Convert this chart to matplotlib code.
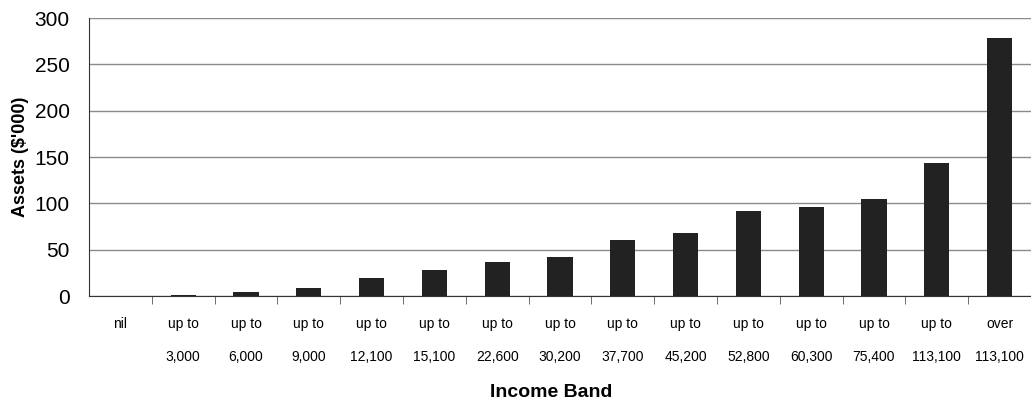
import numpy as np
import matplotlib.pyplot as plt

plt.rcParams['font.family'] = ['Liberation Sans', 'DejaVu Sans']

tops = ['nil', 'up to', 'up to', 'up to', 'up to', 'up to', 'up to', 'up to',
        'up to', 'up to', 'up to', 'up to', 'up to', 'up to', 'over']
bands = ['', '3,000', '6,000', '9,000', '12,100', '15,100', '22,600', '30,200',
         '37,700', '45,200', '52,800', '60,300', '75,400', '113,100', '113,100']
assets = [0, 1.5, 4.5, 9, 19, 28, 37, 42, 60.5, 68, 92, 96, 105, 143.5, 279]

fig = plt.figure(figsize=(10.31, 4.03), dpi=100)
ax = fig.add_axes([0.0863, 0.2655, 0.9137, 0.6895])

x = np.arange(len(assets))
ax.bar(x, assets, width=0.4, color='#222222', zorder=3)

ax.set_xlim(-0.5, len(assets) - 0.5)
ax.set_ylim(0, 300)
ax.set_yticks(range(0, 301, 50))
ax.grid(axis='y', color='#8a8a8a', linewidth=1)
ax.set_axisbelow(True)

for s in ['top', 'right']:
    ax.spines[s].set_visible(False)
ax.spines['left'].set_color('#333333')
ax.spines['bottom'].set_color('#333333')

ax.tick_params(axis='y', labelsize=15, length=0, pad=14)
ax.set_xticks(x)
ax.set_xticklabels([])
ax.tick_params(axis='x', which='major', length=0)
ax.set_xticks(x[:-1] + 0.5, minor=True)
ax.tick_params(axis='x', which='minor', length=6, color='#555555')

for i in x:
    ax.annotate(tops[i], (i, 0), xycoords=('data', 'axes fraction'),
                xytext=(0, -20), textcoords='offset points',
                ha='center', va='center', fontsize=10)
    ax.annotate(bands[i], (i, 0), xycoords=('data', 'axes fraction'),
                xytext=(0, -44), textcoords='offset points',
                ha='center', va='center', fontsize=10)

ax.set_ylabel("Assets ($'000)", fontsize=13, fontweight='bold', labelpad=4)
fig.text(0.535, 0.025, 'Income Band', ha='center', va='center',
         fontsize=14, fontweight='bold')

fig.savefig('out.png', dpi=100)
